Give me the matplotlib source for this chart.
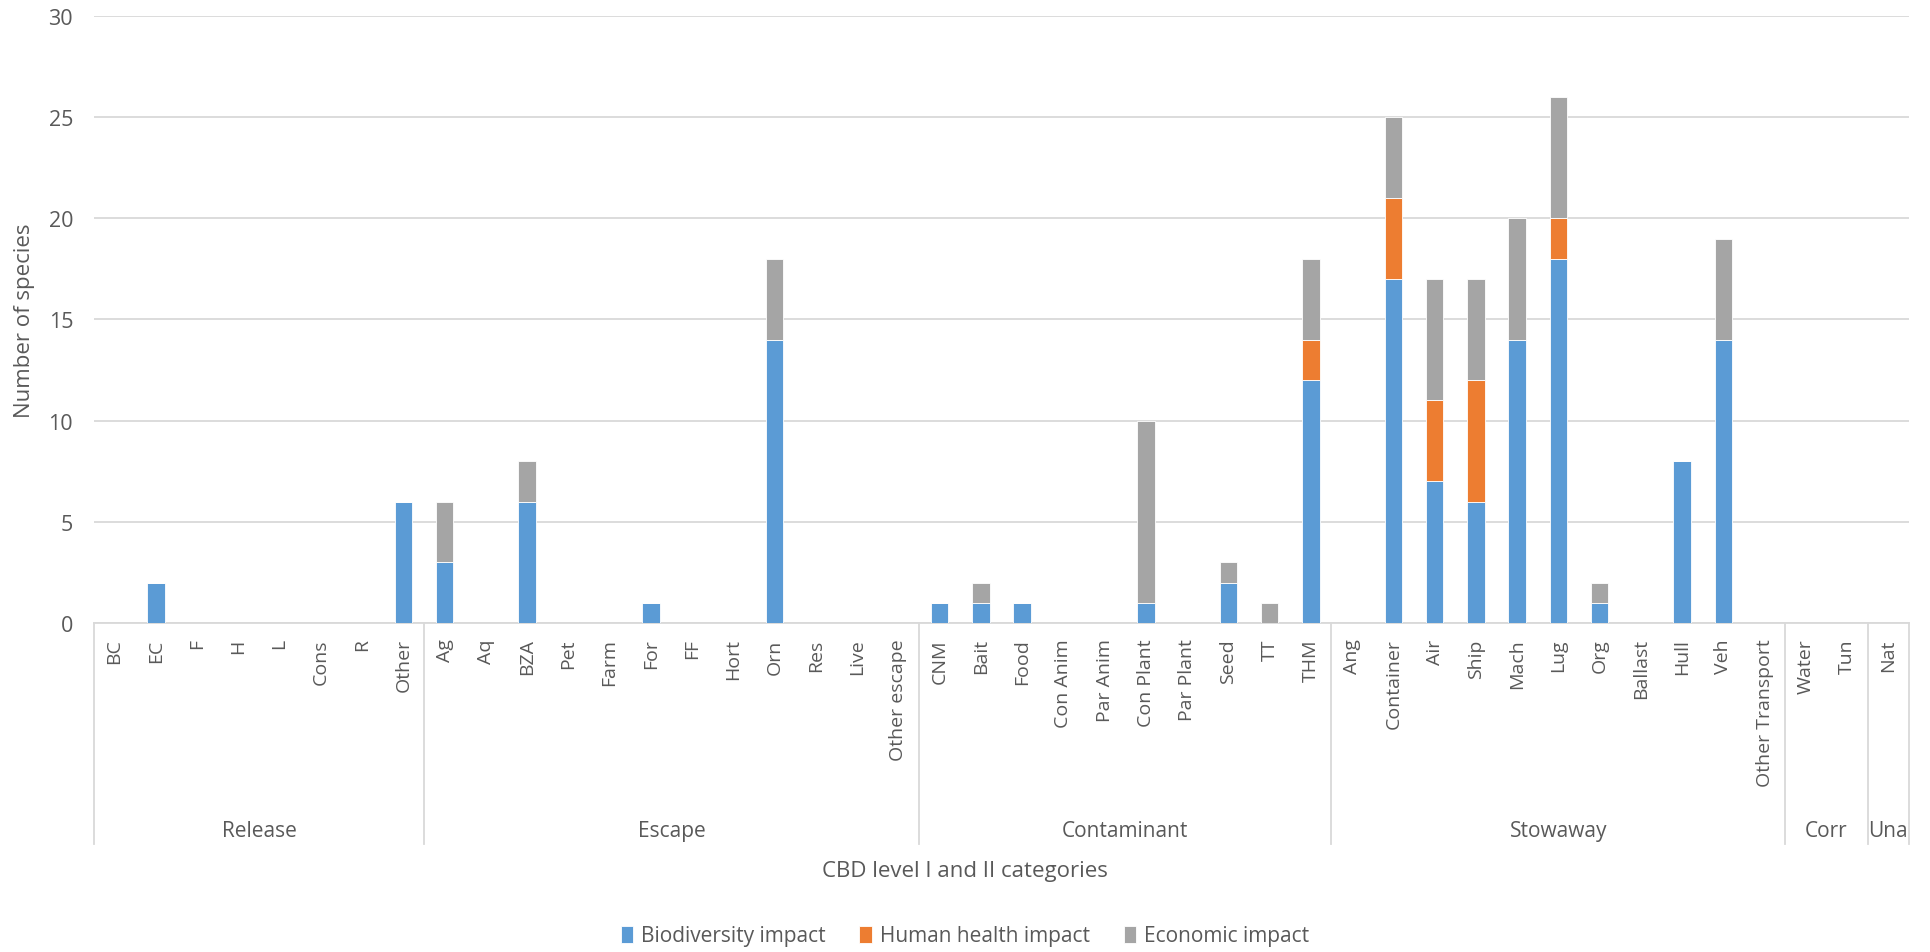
import numpy as np
import matplotlib.pyplot as plt
from matplotlib.transforms import blended_transform_factory

plt.rcParams['font.family'] = ['Open Sans', 'DejaVu Sans']

# Level I groups and their level II categories
groups = ["Release", "Escape", "Contaminant", "Stowaway", "Corr", "Una"]
categories = [
    ["BC", "EC", "F", "H", "L", "Cons", "R", "Other"],
    ["Ag", "Aq", "BZA", "Pet", "Farm", "For", "FF", "Hort", "Orn", "Res", "Live", "Other escape"],
    ["CNM", "Bait", "Food", "Con Anim", "Par Anim", "Con Plant", "Par Plant", "Seed", "TT", "THM"],
    ["Ang", "Container", "Air", "Ship", "Mach", "Lug", "Org", "Ballast", "Hull", "Veh", "Other Transport"],
    ["Water", "Tun"],
    ["Nat"],
]

biodiversity = [0, 2, 0, 0, 0, 0, 0, 6,
                3, 0, 6, 0, 0, 1, 0, 0, 14, 0, 0, 0,
                1, 1, 1, 0, 0, 1, 0, 2, 0, 12,
                0, 17, 7, 6, 14, 18, 1, 0, 8, 14, 0,
                0, 0,
                0]
human_health = [0, 0, 0, 0, 0, 0, 0, 0,
                0, 0, 0, 0, 0, 0, 0, 0, 0, 0, 0, 0,
                0, 0, 0, 0, 0, 0, 0, 0, 0, 2,
                0, 4, 4, 6, 0, 2, 0, 0, 0, 0, 0,
                0, 0,
                0]
economic = [0, 0, 0, 0, 0, 0, 0, 0,
            3, 0, 2, 0, 0, 0, 0, 0, 4, 0, 0, 0,
            0, 1, 0, 0, 0, 9, 0, 1, 1, 4,
            0, 4, 6, 5, 6, 6, 1, 0, 0, 5, 0,
            0, 0,
            0]

labels = [c for g in categories for c in g]
x = np.arange(len(labels))
bio = np.array(biodiversity)
hh = np.array(human_health)
eco = np.array(economic)

blue, orange, grey = "#5B9BD5", "#ED7D31", "#A5A5A5"
line_col = "#D9D9D9"
text_col = "#595959"

fig = plt.figure(figsize=(19.3, 9.53), dpi=100)
ax = fig.add_axes([0.0487, 0.3452, 0.9404, 0.637])

w = 0.42
ax.bar(x, bio, w, color=blue, edgecolor="white", linewidth=0.6, label="Biodiversity impact", zorder=3)
ax.bar(x, hh, w, bottom=bio, color=orange, edgecolor="white", linewidth=0.6, label="Human health impact", zorder=3)
ax.bar(x, eco, w, bottom=bio + hh, color=grey, edgecolor="white", linewidth=0.6, label="Economic impact", zorder=3)

ax.set_xlim(-0.5, len(labels) - 0.5)
ax.set_ylim(0, 30)
ax.set_yticks(range(0, 31, 5))
ax.yaxis.grid(True, color=line_col, linewidth=1.3)
ax.set_axisbelow(True)
for s in ["top", "right", "left"]:
    ax.spines[s].set_visible(False)
ax.spines["bottom"].set_color(line_col)
ax.spines["bottom"].set_linewidth(1.3)
ax.tick_params(axis="y", length=0, labelsize=15.5, labelcolor=text_col, pad=15)

ax.set_xticks(x)
ax.set_xticklabels(labels, rotation=90, fontsize=14, color=text_col, va="top", ha="center")
ax.tick_params(axis="x", length=0, pad=11)

fig.text(25 / 1930, 0.3452 + 0.637 / 2, "Number of species", rotation=90, ha="center",
         va="center", fontsize=16, color=text_col)

# group separators and level I labels below the category labels
trans = blended_transform_factory(ax.transData, ax.transAxes)
bounds = np.cumsum([0] + [len(g) for g in categories]) - 0.5
for b in bounds:
    ax.plot([b, b], [0, -0.364], transform=trans, color=line_col, linewidth=1.3, clip_on=False)
for g, lo, hi in zip(groups, bounds[:-1], bounds[1:]):
    ax.text((lo + hi) / 2, -0.341, g, transform=trans, ha="center", va="center",
            fontsize=15, color=text_col)

fig.text(0.5, 1 - 872 / 953, "CBD level I and II categories", ha="center", va="center",
         fontsize=16, color=text_col)

fig.legend(loc="center", bbox_to_anchor=(0.5, 1 - 937 / 953), ncol=3, frameon=False,
           fontsize=15, handlelength=0.6, handleheight=0.9, handletextpad=0.4,
           columnspacing=1.6, labelcolor=text_col)

fig.savefig("out.png", dpi=100, facecolor="white")
